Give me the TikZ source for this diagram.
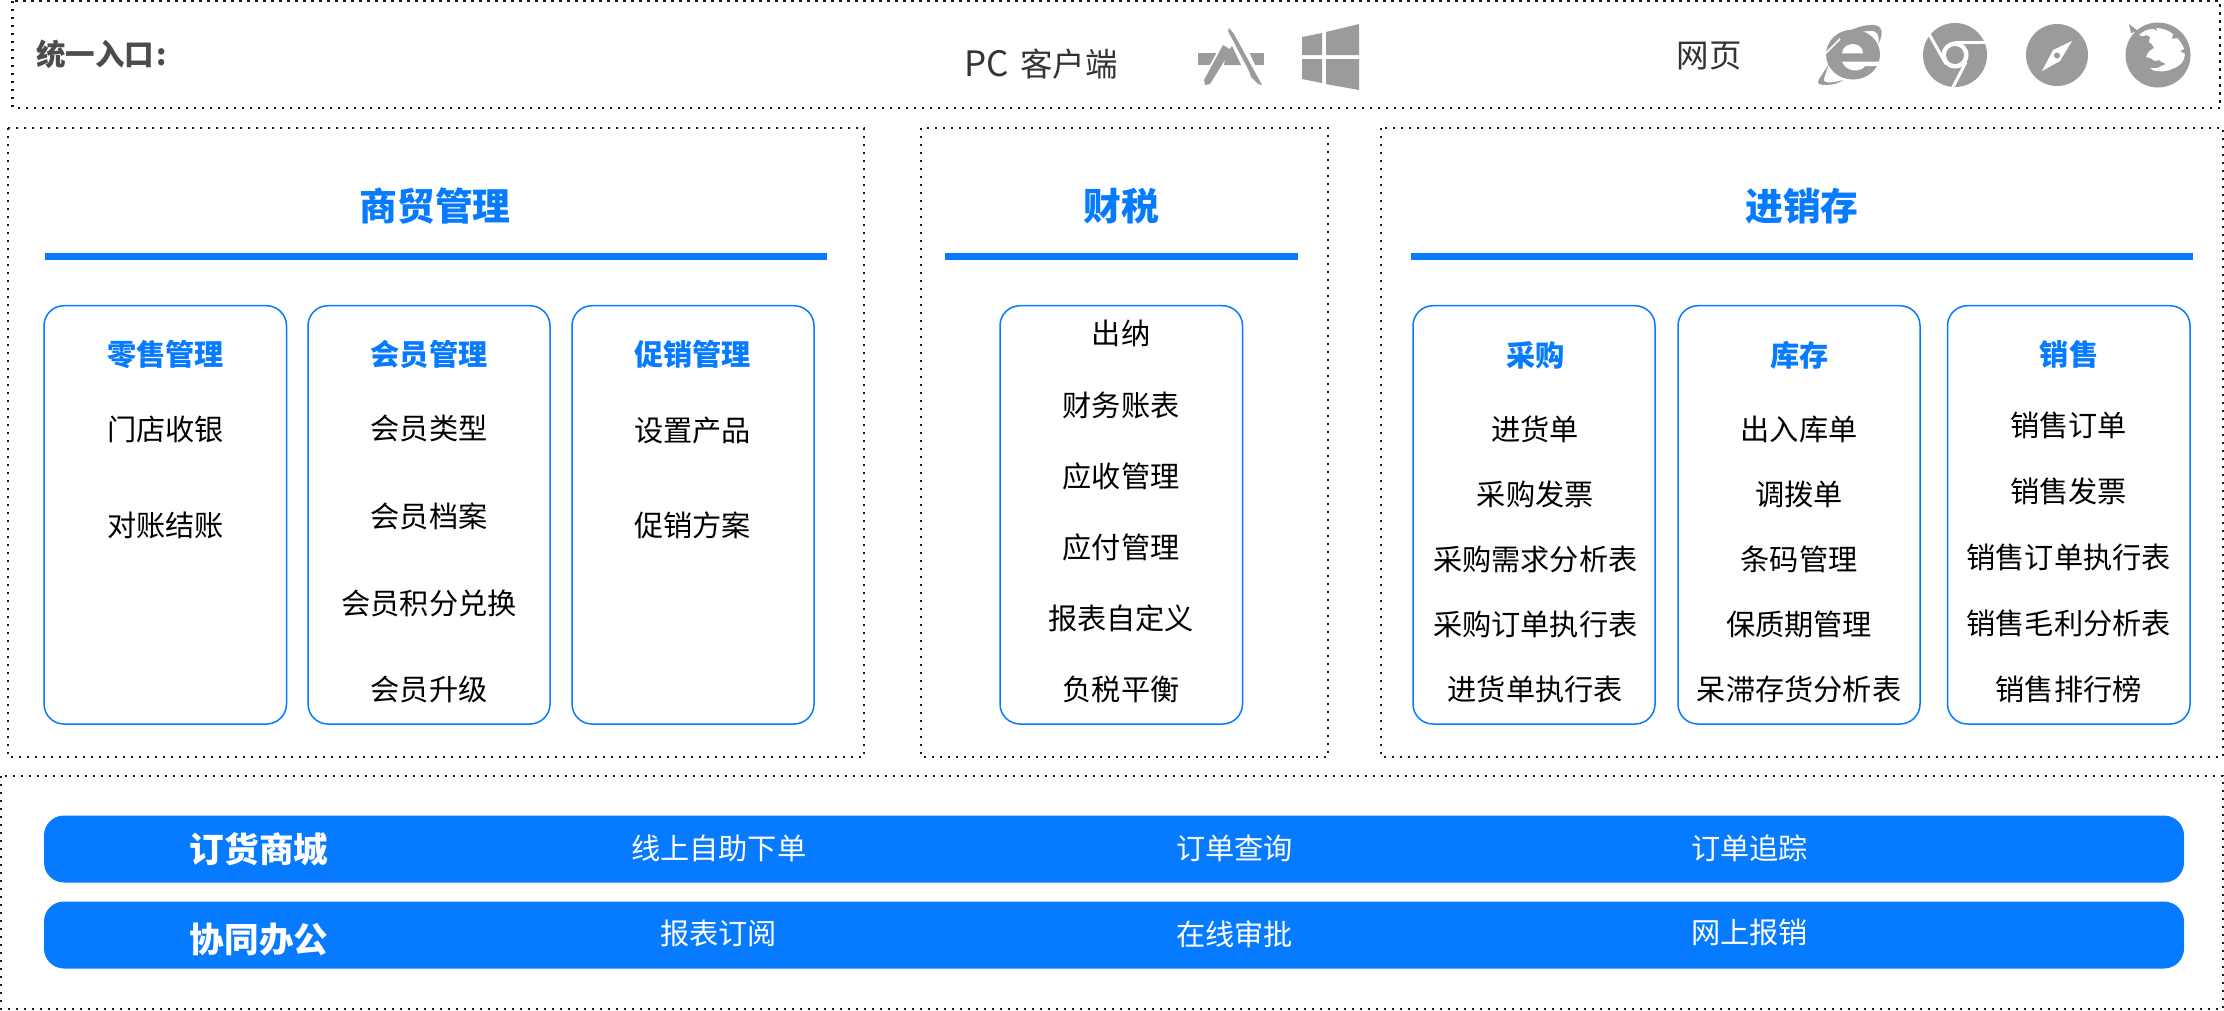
\documentclass[tikz,border=0pt]{standalone}
\usepackage{fontspec}
\setmainfont{Noto Sans CJK SC}
\definecolor{brand}{HTML}{067BFF}
\definecolor{icongray}{HTML}{9B9B9B}
\tikzset{
  zone/.style={draw=black!90,line width=2.4pt,dash pattern=on 2.4pt off 5.6pt},
  card/.style={draw=brand,line width=1.5pt,rounded corners=20pt},
  barbox/.style={fill=brand,rounded corners=20pt},
  rulebar/.style={fill=brand},
  ttl/.style={font=\fontsize{37.8}{42}\selectfont\bfseries,text=brand,inner sep=0,xshift=1pt},
  head/.style={font=\fontsize{29.2}{34}\selectfont\bfseries,text=brand,inner sep=0,xshift=.6pt},
  item/.style={font=\fontsize{29.2}{34}\selectfont,text=black,inner sep=0,xshift=.6pt},
  barhead/.style={font=\fontsize{34.6}{40}\selectfont\bfseries,text=white,inner sep=0,xshift=1pt},
  baritem/.style={font=\fontsize{29.2}{34}\selectfont,text=white,inner sep=0,xshift=.6pt},
  entry/.style={font=\fontsize{32.5}{38}\selectfont,text=black!80,inner sep=0},
  ico/.style={fill=icongray,draw=none},
  icocut/.style={fill=white,draw=none},
}
\begin{document}
\begin{tikzpicture}[x=1pt,y=-1pt]
\useasboundingbox (0,0) rectangle (2224,1010);
\fill[white] (0,0) rectangle (2224,1010);
% zones
\draw[zone] (12.5,1) rectangle (2220,108);
\draw[zone] (8,128) rectangle (864,757);
\draw[zone] (921,128) rectangle (1328,757);
\draw[zone] (1381,128) rectangle (2223,757);
\draw[zone] (1,776) rectangle (2223,1009);
% entry row
\node[anchor=west,font=\fontsize{29.5}{34}\selectfont\bfseries,text=black!70,inner sep=0] (entry) at (36,54) {统一入口\kern2pt:};
\node[entry] (pc) at (1041,64) {{\fontsize{35}{38}\selectfont PC}\hspace{11pt}客户端};
\node[entry] (web) at (1709,56) {网页};
% App Store icon
\fill[ico] (1198,53) rectangle (1264,65);
\fill[icocut] (1210,65) -- (1230,28) -- (1238,28) -- (1255,65) -- cycle;
\fill[ico] (1226,54) -- (1232,46) -- (1241,65) -- (1224,65) -- cycle;
\fill[ico] (1205,85) -- (1204,80) -- (1223,45) -- (1231,50) -- (1210,84) -- cycle;
\fill[ico] (1229,28) -- (1234,34) -- (1262,85) -- (1258,84) -- (1251,77) -- (1249,71) -- (1228,31) -- cycle;
% Windows icon
\fill[ico] (1302,37) -- (1322,33) -- (1322,55) -- (1302,55) -- cycle;
\fill[ico] (1326,32) -- (1359,24) -- (1359,55) -- (1326,55) -- cycle;
\fill[ico] (1302,59) -- (1322,59) -- (1322,83) -- (1302,79) -- cycle;
\fill[ico] (1326,59) -- (1359,59) -- (1359,90) -- (1326,84) -- cycle;
% IE icon
\fill[ico] (1828,47) .. controls (1838,34) and (1860,24) .. (1874,25) .. controls (1884,26) and (1883,36) .. (1878,44) .. controls (1880,36) and (1878,30) .. (1870,31) .. controls (1862,31) and (1850,33) .. (1842,38) -- cycle;
\fill[ico] (1853,54.5) ellipse (27 and 25);
\fill[icocut] (1842,53.3) .. controls (1843,41) and (1863,41) .. (1863,53.3) -- cycle;
\fill[icocut] (1842,61.7) -- (1881,61.7) -- (1881,66) -- (1865,66) .. controls (1860,73) and (1846,72) .. (1842,61.7) -- cycle;
\draw[white,line width=1.5pt] (1840,39) -- (1825,54);
\fill[ico] (1829,64) .. controls (1824,72) and (1819,78) .. (1818,82) .. controls (1818,86) and (1826,85) .. (1832,84.5) .. controls (1836,84) and (1840,82) .. (1843,80) .. controls (1836,82) and (1826,84) .. (1824,81) .. controls (1823,78) and (1827,71) .. (1829,64) -- cycle;
% Chrome icon
\fill[ico] (1955,55) circle (32);
\fill[icocut] (1955,55) circle (13.5);
\fill[ico] (1955,55) circle (9);
\draw[white,line width=3pt] (1929,34) -- (1946,64);
\draw[white,line width=3pt] (1955,42) -- (1988,42);
\draw[white,line width=3pt] (1966,62) -- (1952,89);
% Safari icon
\fill[ico] (2057,55) circle (31);
\fill[icocut] (2072,41) -- (2060,61) -- (2042,71) -- (2053,50) -- cycle;
\fill[ico] (2057,55.5) circle (3);
% Firefox icon
\fill[ico] (2158,55) circle (32.5);
\fill[ico] (2131,33) -- (2129,24) -- (2138,31) -- cycle;
\fill[icocut] (2139,35) .. controls (2143,31) and (2148,29) .. (2153,29) -- (2158,31) -- (2156,28) .. controls (2162,28) and (2168,30) .. (2173,34)
  -- (2172,39) -- (2177,38) .. controls (2180,41) and (2183,45) .. (2184,49) -- (2180,51) -- (2185,54) -- (2184,59)
  .. controls (2182,64) and (2178,67) .. (2172,69) .. controls (2168,71) and (2162,72) .. (2157,71)
  .. controls (2154,71) and (2152,70) .. (2150,68) -- (2157,68) -- (2166,64)
  .. controls (2163,63) and (2161,62) .. (2159,60) -- (2155,61) -- (2150,58) -- (2146,57)
  .. controls (2147,53) and (2150,50) .. (2154,48) .. controls (2153,45) and (2151,43) .. (2149,42)
  -- (2150,37) -- (2146,35) .. controls (2143,37) and (2141,36) .. (2139,35) -- cycle;
% title block headers
\node[ttl] (t1) at (434,205.7) {商贸管理};
\node[ttl] (t2) at (1120.5,205.7) {财税};
\node[ttl] (t3) at (1801,206.5) {进销存};
\fill[rulebar] (45,253) rectangle (827,260);
\fill[rulebar] (945,253) rectangle (1298,260);
\fill[rulebar] (1411,253) rectangle (2193,260);
% cards
\draw[card] (44,305.7) rectangle (286.5,724);
\draw[card] (308,305.7) rectangle (550,724);
\draw[card] (572,305.7) rectangle (814,724);
\draw[card] (1000,305.7) rectangle (1242.5,724);
\draw[card] (1413,305.7) rectangle (1655,724);
\draw[card] (1678,305.7) rectangle (1920,724);
\draw[card] (1947.5,305.7) rectangle (2190,724);
% column 1
\node[head] (a0) at (164.8,354.6) {零售管理};
\node[item] (a1) at (164.8,429.5) {门店收银};
\node[item] (a2) at (164.8,525) {对账结账};
% column 2
\node[head] (b0) at (428.4,354.6) {会员管理};
\node[item] (b1) at (428.4,428.4) {会员类型};
\node[item] (b2) at (428.4,516) {会员档案};
\node[item] (b3) at (428.4,603) {会员积分兑换};
\node[item] (b4) at (428.4,689.5) {会员升级};
% column 3
\node[head] (c0) at (692,354.6) {促销管理};
\node[item] (c1) at (692,430) {设置产品};
\node[item] (c2) at (692,525) {促销方案};
% finance
\node[item] (d1) at (1120.5,333) {出纳};
\node[item] (d2) at (1120.5,405) {财务账表};
\node[item] (d3) at (1120.5,476) {应收管理};
\node[item] (d4) at (1120.5,547) {应付管理};
\node[item] (d5) at (1120.5,618) {报表自定义};
\node[item] (d6) at (1120.5,689.5) {负税平衡};
% purchasing
\node[head] (e0) at (1535.2,355) {采购};
\node[item] (e1) at (1534.7,429) {进货单};
\node[item] (e2) at (1534.7,494.5) {采购发票};
\node[item] (e3) at (1534.7,559.5) {采购需求分析表};
\node[item] (e4) at (1534.7,624.5) {采购订单执行表};
\node[item] (e5) at (1534.7,689.5) {进货单执行表};
% stock
\node[head] (f0) at (1799,355) {库存};
\node[item] (f1) at (1798.5,429) {出入库单};
\node[item] (f2) at (1798.5,494.5) {调拨单};
\node[item] (f3) at (1798.5,559.5) {条码管理};
\node[item] (f4) at (1798.5,624.5) {保质期管理};
\node[item] (f5) at (1798.5,689.5) {呆滞存货分析表};
% sales
\node[head] (g0) at (2068.5,354.6) {销售};
\node[item] (g1) at (2068,425.5) {销售订单};
\node[item] (g2) at (2068,491) {销售发票};
\node[item] (g3) at (2068,557.4) {销售订单执行表};
\node[item] (g4) at (2068,623.5) {销售毛利分析表};
\node[item] (g5) at (2068,689.5) {销售排行榜};
% bars
\fill[barbox] (44,815.5) rectangle (2184,882.5);
\fill[barbox] (44,901.5) rectangle (2184,968.5);
\node[barhead] (h0) at (258,849) {订货商城};
\node[baritem] (h1) at (718,848.5) {线上自助下单};
\node[baritem] (h2) at (1234,848.5) {订单查询};
\node[baritem] (h3) at (1749,848.5) {订单追踪};
\node[barhead] (i0) at (258,939) {协同办公};
\node[baritem] (i1) at (718,933.8) {报表订阅};
\node[baritem] (i2) at (1234,934) {在线审批};
\node[baritem] (i3) at (1749,932.5) {网上报销};
\end{tikzpicture}
\end{document}
